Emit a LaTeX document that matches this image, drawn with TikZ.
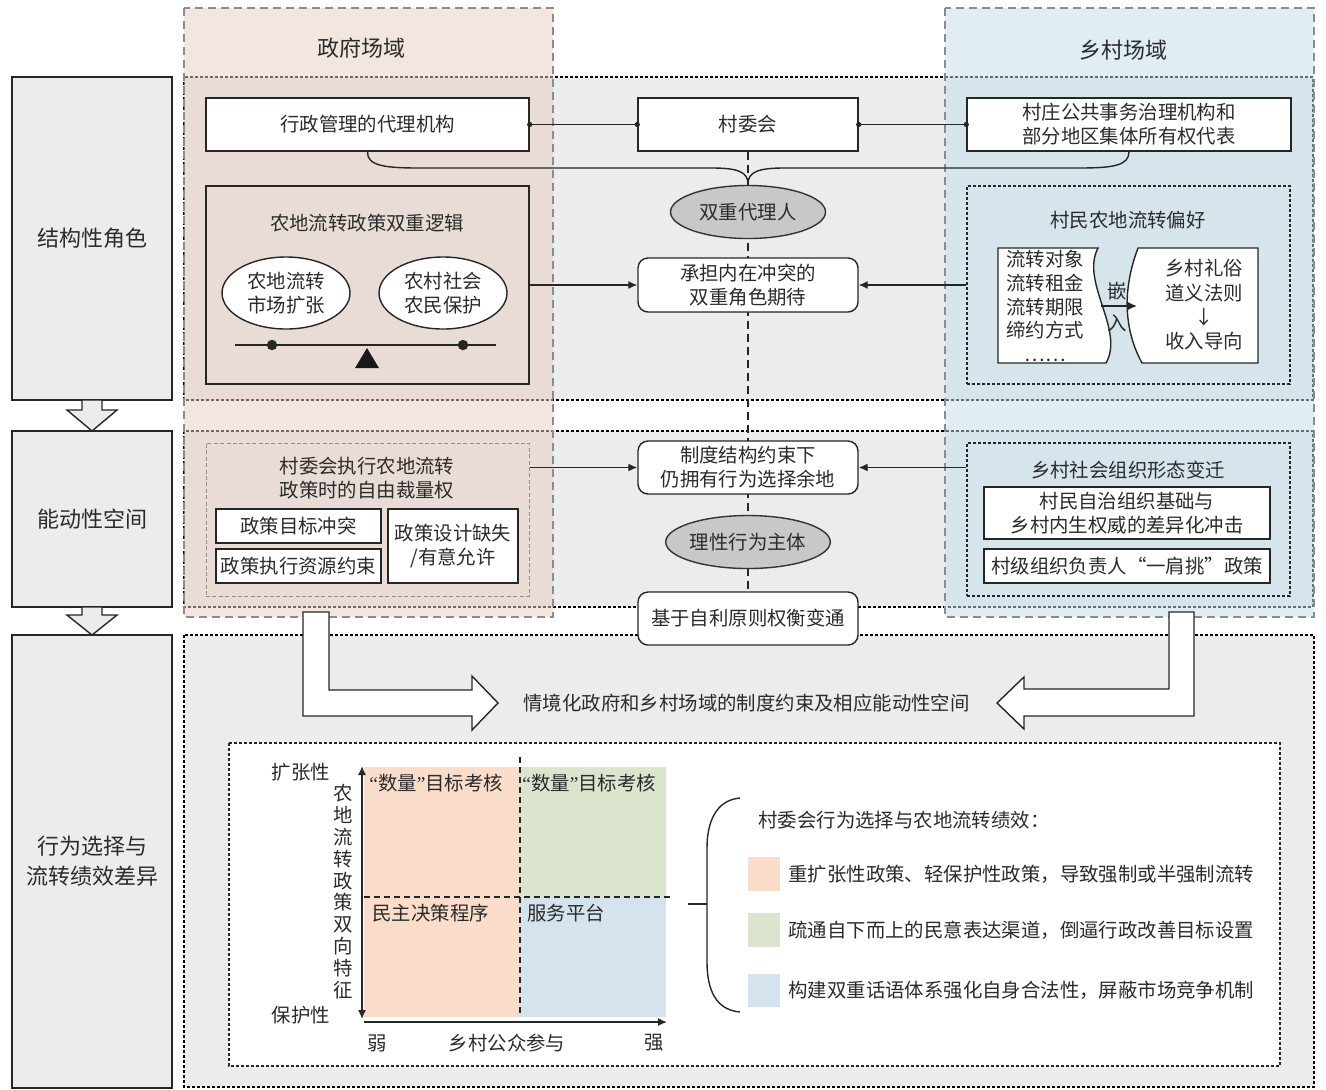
\documentclass[tikz,border=0pt]{standalone}
\usepackage{fontspec}
\setmainfont{Noto Sans CJK SC}
\newfontfamily\narrowq{Liberation Serif}
\usetikzlibrary{arrows.meta,shapes.geometric}
\pgfdeclarelayer{bgA}\pgfdeclarelayer{bgB}\pgfdeclarelayer{bgC}
\pgfsetlayers{bgA,bgB,bgC,main}
\definecolor{panelgray}{HTML}{EBECEE}
\definecolor{pinkcol}{RGB}{233,205,193}
\definecolor{bluecol}{RGB}{195,221,233}
\definecolor{ellgray}{HTML}{C8C8C8}
\definecolor{qpeach}{HTML}{F9DCC9}
\definecolor{qgreen}{HTML}{DBE4CD}
\definecolor{qblue}{HTML}{D5E3EE}
\definecolor{txt}{HTML}{2B2B2B}
\tikzset{
 base/.style={font=\fontsize{9.7}{12}\selectfont, text=txt, align=center, inner sep=0pt},
 box/.style={base, draw=black!85, line width=0.7pt, fill=white, rectangle},
 rbox/.style={box, rounded corners=5pt},
 ell/.style={base, ellipse, draw=black!80, line width=0.7pt, fill=ellgray},
 wellip/.style={base, ellipse, draw=black!85, line width=0.7pt, fill=white},
 dbox/.style={rectangle, draw=black!85, line width=0.7pt, dash pattern=on 1.5pt off 1pt},
 gdbox/.style={rectangle, draw=black!45, line width=0.5pt, dash pattern=on 2pt off 1.2pt},
 sidebox/.style={base, draw=black!85, line width=0.7pt, fill=panelgray, font=\fontsize{11}{15}\selectfont},
 panel/.style={fill=panelgray, draw=black, line width=0.6pt, dash pattern=on 1.5pt off 1pt},
 colbox/.style={draw=black!45, line width=0.6pt, dash pattern=on 4pt off 2.5pt},
 arr/.style={-{Latex[length=4.5pt,width=4pt]}, line width=0.7pt, draw=black!85},
 blockarr/.style={fill=white, draw=black!85, line width=0.7pt, line join=miter},
 downarr/.style={fill=panelgray, draw=black!85, line width=0.7pt, line join=miter},
 ttl/.style={base, font=\fontsize{11}{14}\selectfont},
 lbl/.style={base},
}
\newcommand{\myLQ}{{\narrowq “}}
\newcommand{\myRQ}{{\narrowq ”}}
\begin{document}
\begin{tikzpicture}[x=0.5pt,y=-0.5pt]
\useasboundingbox (0,0) rectangle (1326,1089);

% ---------- background panels and columns ----------
\begin{pgfonlayer}{bgA}
\fill[white] (0,0) rectangle (1326,1089);
\draw[panel] (184,77) rectangle (1313,400);
\draw[panel] (184,431) rectangle (1313,607);
\draw[panel] (184,635) rectangle (1314,1087);
\end{pgfonlayer}
\begin{pgfonlayer}{bgB}
\fill[pinkcol, fill opacity=0.5] (184,8) rectangle (553,617);
\draw[colbox] (184,8) rectangle (553,617);
\fill[bluecol, fill opacity=0.5] (945,8) rectangle (1314,617);
\draw[colbox] (945,8) rectangle (1314,617);
\end{pgfonlayer}

% ---------- left side stages ----------
\node[sidebox, minimum width=80pt, minimum height=161.5pt] (roleA) at (92,238.5) {结构性角色};
\node[sidebox, minimum width=80pt, minimum height=88pt] (roleB) at (92,519) {能动性空间};
\node[sidebox, minimum width=80pt, minimum height=226.5pt] (roleC) at (92,861.5) {行为选择与\\流转绩效差异};
\draw[downarr] (82,400) -- (102,400) -- (102,410) -- (117,410) -- (92,431) -- (67,410) -- (82,410) -- cycle;
\draw[downarr] (82,607) -- (102,607) -- (102,615) -- (117,615) -- (92,635) -- (67,615) -- (82,615) -- cycle;

% ---------- column titles ----------
\node[ttl] (govT) at (361,48) {政府场域};
\node[ttl] (vilT) at (1123,50) {乡村场域};

% ---------- row 1 ----------
\node[box, minimum width=161.5pt, minimum height=26.5pt] (gov) at (367.5,124.5) {行政管理的代理机构};
\node[box, minimum width=110pt, minimum height=26.5pt] (cwh) at (748,124.5) {村委会};
\node[box, minimum width=162pt, minimum height=26.5pt] (vil) at (1129,124.5) {村庄公共事务治理机构和\\部分地区集体所有权代表};
\draw[line width=0.7pt, draw=black!85] (gov.east) -- (cwh.west);
\draw[line width=0.7pt, draw=black!85] (cwh.east) -- (vil.west);
\fill[black!85] (gov.east) circle (1.3pt) (cwh.west) circle (1.3pt) (cwh.east) circle (1.3pt) (vil.west) circle (1.3pt);

\node[ell, minimum width=77.5pt, minimum height=26.5pt] (dual) at (748,212) {双重代理人};
\coordinate (braceTip) at (748,184);
\draw[line width=0.7pt, draw=black!85] (gov.south) .. controls (367,166) and (385,168) .. (420,168) -- (712,168) .. controls (738,168) and (748,172) .. (braceTip);
\draw[line width=0.7pt, draw=black!85] (vil.south) .. controls (1129,166) and (1112,168) .. (1078,168) -- (784,168) .. controls (758,168) and (748,172) .. (braceTip);

% logic box
\node[rectangle, draw=black!85, line width=0.7pt, minimum width=161.5pt, minimum height=99pt] (logic) at (367.5,285) {};
\node[lbl] (logicT) at (367,223) {农地流转政策双重逻辑};
\node[wellip, minimum width=64pt, minimum height=36pt] (mkt) at (286,293) {农地流转\\市场扩张};
\node[wellip, minimum width=64pt, minimum height=36pt] (prot) at (443,293) {农村社会\\农民保护};
\coordinate (beamL) at (235,345);
\coordinate (beamR) at (496,345);
\draw[line width=0.7pt, draw=black!85] (beamL) -- (beamR);
\fill[black!85] (272,345) circle (2.6pt) (463,345) circle (2.6pt);
\fill[black!90] (367,348) -- (379,368) -- (355,368) -- cycle;

\node[rbox, minimum width=110pt, minimum height=27pt] (expect) at (748,285) {承担内在冲突的\\双重角色期待};

% preference box
\node[dbox, minimum width=161.5pt, minimum height=99pt] (pref) at (1128.5,285) {};
\node[lbl] (prefT) at (1128,220) {村民农地流转偏好};
\draw[line width=0.7pt, draw=black!85, fill=white] (998,248) -- (1098,248) .. controls (1080,282) and (1125,330) .. (1106,363) -- (998,363) -- cycle;
\draw[line width=0.7pt, draw=black!85, fill=white] (1138,248) -- (1258,248) -- (1258,363) -- (1142,363) .. controls (1124,330) and (1122,290) .. (1138,248) -- cycle;
\node[base, font=\fontsize{9.7}{11.8}\selectfont] (prefL) at (1045,306) {流转对象\\流转租金\\流转期限\\缔约方式\\……};
\node[base, font=\fontsize{9.7}{12.2}\selectfont] (prefR) at (1204,305) {乡村礼俗\\道义法则\\↓\\收入导向};
\coordinate (embS) at (1101,306);
\coordinate (embE) at (1137,306);
\draw[arr] (embS) -- (embE);
\node[lbl] (emb1) at (1117,291) {嵌};
\node[lbl] (emb2) at (1117,323) {入};

\draw[arr] (logic.east |- expect.west) -- (expect.west);
\draw[arr] (pref.west |- expect.east) -- (expect.east);

% ---------- row 2 ----------
\node[gdbox, minimum width=161.5pt, minimum height=76.5pt] (disc) at (367.5,519.5) {};
\node[lbl] (discT) at (367,478) {村委会执行农地流转\\政策时的自由裁量权};
\node[box, minimum width=82.5pt, minimum height=17pt] (goal) at (298.5,526) {政策目标冲突};
\node[box, minimum width=82.5pt, minimum height=17pt] (res) at (298.5,566) {政策执行资源约束};
\node[box, minimum width=65pt, minimum height=37pt] (design) at (453,546) {政策设计缺失\\/有意允许};

\node[rbox, minimum width=110pt, minimum height=26.5pt] (inst) at (748,467.5) {制度结构约束下\\仍拥有行为选择余地};
\node[ell, minimum width=77.5pt, minimum height=26.5pt] (ratio) at (748,542) {理性行为主体};
\node[rbox, minimum width=110pt, minimum height=26.5pt] (self) at (748,618.5) {基于自利原则权衡变通};

\node[dbox, minimum width=161.5pt, minimum height=76.5pt] (org) at (1128.5,519.5) {};
\node[lbl] (orgT) at (1128,470) {乡村社会组织形态变迁};
\node[box, minimum width=143pt, minimum height=26pt] (auto) at (1127,513) {村民自治组织基础与\\乡村内生权威的差异化冲击};
\node[box, minimum width=143pt, minimum height=17pt] (head) at (1127,566) {村级组织负责人“一肩挑”政策};

\draw[arr] (disc.east |- inst.west) -- (inst.west);
\draw[arr] (org.west |- inst.east) -- (inst.east);

\begin{pgfonlayer}{bgC}
\draw[line width=0.7pt, draw=black!85, dash pattern=on 4pt off 2.5pt] (cwh.south) -- (self.north);
\end{pgfonlayer}

% ---------- row 3 ----------
\draw[blockarr] (303,612) -- (329,612) -- (329,690) -- (472,690) -- (472,676) -- (498,703) -- (472,730) -- (472,716) -- (303,716) -- cycle;
\draw[blockarr] (1169,612) -- (1194,612) -- (1194,716) -- (1024,716) -- (1024,729) -- (997,703) -- (1024,677) -- (1024,689) -- (1169,689) -- cycle;
\node[lbl, anchor=west] (ctx) at (523,703) {情境化政府和乡村场域的制度约束及相应能动性空间};

\draw[dbox, fill=white] (229,743) rectangle (1280,1066);

% quadrants
\fill[qpeach] (364,767) rectangle (520,1017);
\fill[qgreen] (520,767) rectangle (666,897);
\fill[qblue] (520,897) rectangle (666,1017);
\draw[line width=0.7pt, draw=black!85, dash pattern=on 3pt off 2pt] (520,757) -- (520,1017);
\draw[line width=0.7pt, draw=black!85, dash pattern=on 3pt off 2pt] (364,897) -- (670,897);
\draw[{Latex[length=4.5pt,width=4pt]}-{Latex[length=4.5pt,width=4pt]}, line width=0.7pt, draw=black!85] (362,766) -- (362,1019);
\draw[arr] (364,1022) -- (667,1022);

\node[lbl] (yTop) at (301,772) {扩张性};
\node[lbl] (yBot) at (301,1015) {保护性};
\node[base, font=\fontsize{9.7}{10.9}\selectfont] (yAx) at (343,891.5) {农\\地\\流\\转\\政\\策\\双\\向\\特\\征};
\node[lbl] (xL) at (377,1043) {弱};
\node[lbl] (xM) at (507,1043) {乡村公众参与};
\node[lbl] (xR) at (654,1043) {强};
\node[lbl, anchor=west] (q1) at (369,783) {\myLQ 数量\myRQ 目标考核};
\node[lbl, anchor=west] (q2) at (522,783) {\myLQ 数量\myRQ 目标考核};
\node[lbl, anchor=west] (q3) at (372,913) {民主决策程序};
\node[lbl, anchor=west] (q4) at (527,913) {服务平台};

% bracket and legend
\coordinate (brTick) at (688,904);
\coordinate (brMid) at (707,904);
\draw[line width=0.7pt, draw=black!85] (740,798) .. controls (716,800) and (707,822) .. (707,848) -- (707,962) .. controls (707,990) and (716,1010) .. (740,1012);
\draw[line width=0.7pt, draw=black!85] (brTick) -- (brMid);
\node[lbl, anchor=west] (legT) at (758,820) {村委会行为选择与农地流转绩效：};
\fill[qpeach] (748,857) rectangle (780,891);
\fill[qgreen] (748,913) rectangle (780,947);
\fill[qblue] (748,974) rectangle (780,1007);
\node[lbl, anchor=west] (leg1) at (788,874) {重扩张性政策、轻保护性政策，导致强制或半强制流转};
\node[lbl, anchor=west] (leg2) at (788,930) {疏通自下而上的民意表达渠道，倒逼行政改善目标设置};
\node[lbl, anchor=west] (leg3) at (788,990) {构建双重话语体系强化自身合法性，屏蔽市场竞争机制};
\end{tikzpicture}
\end{document}
